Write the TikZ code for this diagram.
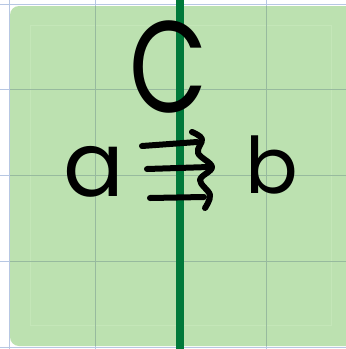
\documentclass[tikz,border=0pt]{standalone}
\usepackage{fontspec}
\setmainfont{Poppins}
\definecolor{bgfill}{HTML}{BCE1B0}
\definecolor{midline}{HTML}{00793A}
\definecolor{gridout}{HTML}{B7C7E3}
\definecolor{gridin}{HTML}{97BA9E}
\definecolor{innerbox}{HTML}{C4E6B8}
\tikzset{
  ink/.style={line width=6pt, line cap=round, line join=round, black},
  letter/.style={inner sep=0pt, anchor=center, text=black},
  gridline/.style={line width=1pt}
}
\begin{document}
\begin{tikzpicture}[x=1pt,y=-1pt]
\useasboundingbox (0,0) rectangle (346,349);
\fill[white] (0,0) rectangle (346,349);
% grid outside
\foreach \g in {9,95,180.5,266} \draw[gridline,gridout] (\g,0) -- (\g,349);
\foreach \g in {4,89,175,261,347} \draw[gridline,gridout] (0,\g) -- (346,\g);
% green panel
\fill[bgfill, rounded corners=9pt] (10,6) rectangle (356,346);
\begin{scope}
\clip[rounded corners=9pt] (10,6) rectangle (356,346);
\draw[line width=0.6pt, innerbox] (30,25) rectangle (331,325);
\foreach \g in {95,180.5,266} \draw[gridline,gridin] (\g,0) -- (\g,349);
\foreach \g in {89,175,261} \draw[gridline,gridin] (0,\g) -- (346,\g);
\end{scope}
% vertical dark green line
\draw[line width=8pt, midline] (179.5,0) -- (179.5,349);
% letters
\node[letter, font=\fontsize{130}{130}\selectfont, xscale=0.78] (c) at (169,67) {C};
\node[letter, font=\fontsize{90}{90}\selectfont] (a) at (94,172) {a};
\node[letter, font=\fontsize{78}{78}\selectfont] (b) at (272,165) {b};
% triple arrow
\coordinate (t1) at (142,146); \coordinate (t2) at (197,142);
\coordinate (m1) at (147,169); \coordinate (m2) at (209,167);
\coordinate (u1) at (150,198); \coordinate (u2) at (204,197);
\draw[ink] (t1) -- (t2);
\draw[ink] (m1) -- (m2);
\draw[ink] (u1) -- (u2);
\draw[ink] plot[smooth, tension=0.6] coordinates {(192,132) (202,139) (198,153) (212,167) (200,180) (210,195) (205,208)};
\end{tikzpicture}
\end{document}
